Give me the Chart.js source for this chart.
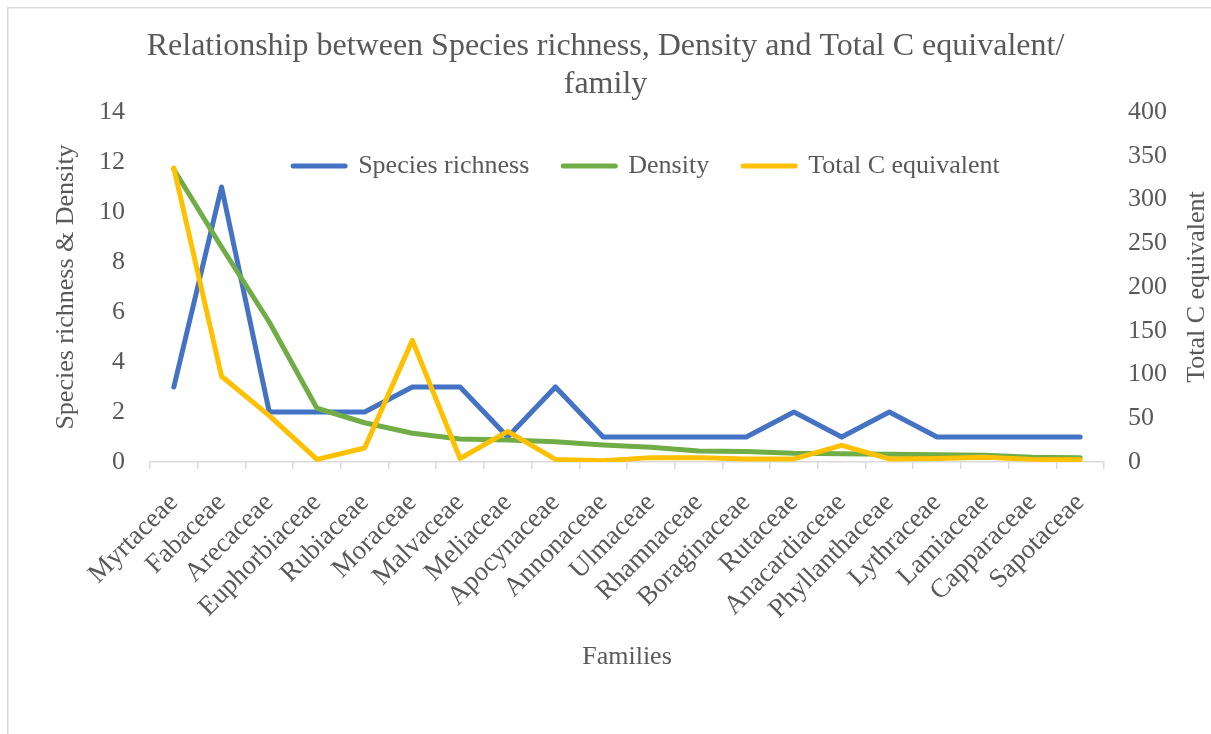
<!DOCTYPE html>
<html>
<head>
<meta charset="utf-8">
<script src="https://cdn.jsdelivr.net/npm/chart.js@4/dist/chart.umd.min.js"></script>
<style>
  html, body { margin: 0; padding: 0; background: #ffffff; }
  #wrap { width: 1211px; height: 734px; }
</style>
</head>
<body>
<div id="wrap"><canvas id="c" width="1211" height="734"></canvas></div>
<script>
const categories = ['Myrtaceae','Fabaceae','Arecaceae','Euphorbiaceae','Rubiaceae','Moraceae','Malvaceae','Meliaceae','Apocynaceae','Annonaceae','Ulmaceae','Rhamnaceae','Boraginaceae','Rutaceae','Anacardiaceae','Phyllanthaceae','Lythraceae','Lamiaceae','Capparaceae','Sapotaceae'];
const speciesRichness = [3, 11, 2, 2, 2, 3, 3, 1, 3, 1, 1, 1, 1, 2, 1, 2, 1, 1, 1, 1];
const density = [11.7, 8.6, 5.6, 2.15, 1.57, 1.15, 0.92, 0.88, 0.81, 0.68, 0.59, 0.44, 0.42, 0.35, 0.33, 0.31, 0.29, 0.27, 0.19, 0.17];
const totalC = [336, 98, 53, 3, 16, 139, 4, 35, 3, 1.5, 5, 5, 3.5, 3.5, 19, 3.5, 4, 5.5, 3, 2.5];
const leftTicks = [0, 2, 4, 6, 8, 10, 12, 14];
const rightTicks = [0, 50, 100, 150, 200, 250, 300, 350, 400];

const FONT = '"Liberation Serif", "Times New Roman", serif';
const TXT = '#595959';
const GRID = '#d9d9d9';

const decor = {
  id: 'decor',
  beforeLayout(chart) {
    const l = chart.legend;
    if (l && !l._zeroPatched) {
      const origFit = l.fit.bind(l);
      l.fit = function () { origFit(); this.height = 0; };
      l._zeroPatched = true;
    }
  },
  afterLayout(chart) {
    const l = chart.legend;
    if (l) {
      l.left += 41; l.right += 41;
      l.top += 7;
      l.height = 80;
      l.bottom = l.top + 80;
    }
  },
  beforeDraw(chart) {
    const ctx = chart.ctx;
    ctx.save();
    ctx.strokeStyle = GRID;
    ctx.lineWidth = 1.5;
    ctx.beginPath();
    ctx.moveTo(7.75, 734);
    ctx.lineTo(7.75, 7.75);
    ctx.lineTo(1211, 7.75);
    ctx.stroke();
    ctx.restore();
  },
  afterDraw(chart) {
    const ctx = chart.ctx;
    const ca = chart.chartArea;
    ctx.save();
    ctx.fillStyle = TXT;
    ctx.font = '26px ' + FONT;
    ctx.textAlign = 'center';
    ctx.textBaseline = 'middle';
    ctx.translate(1197, (ca.top + ca.bottom) / 2);
    ctx.rotate(-Math.PI / 2);
    ctx.fillText('Total C equivalent', 0, 0);
    ctx.restore();
  }
};

new Chart(document.getElementById('c'), {
  type: 'line',
  data: {
    labels: categories,
    datasets: [
      { label: 'Species richness', data: speciesRichness, yAxisID: 'y', borderColor: '#4472C4', backgroundColor: '#4472C4', order: 2 },
      { label: 'Density', data: density, yAxisID: 'y', borderColor: '#70AD47', backgroundColor: '#70AD47', order: 1 },
      { label: 'Total C equivalent', data: totalC, yAxisID: 'y2', borderColor: '#FFC000', backgroundColor: '#FFC000', order: 0 }
    ]
  },
  options: {
    responsive: false,
    animation: false,
    devicePixelRatio: 1,
    layout: { padding: 0 },
    elements: {
      line: { borderWidth: 5, tension: 0, borderCapStyle: 'round', borderJoinStyle: 'round', fill: false },
      point: { radius: 0, hoverRadius: 0 }
    },
    plugins: {
      tooltip: { enabled: false },
      title: {
        display: true,
        text: ['Relationship between Species richness, Density and Total C equivalent/', 'family'],
        color: TXT,
        font: { family: FONT, size: 32, weight: 'normal', lineHeight: 1.1875 },
        padding: { top: 28, bottom: 8 }
      },
      legend: {
        display: true,
        position: 'top',
        align: 'center',
        labels: {
          color: TXT,
          font: { family: FONT, size: 26 },
          usePointStyle: true,
          pointStyle: 'line',
          pointStyleWidth: 52,
          boxHeight: 26,
          padding: 34,
          sort: (a, b) => a.datasetIndex - b.datasetIndex,
          generateLabels(chart) {
            return Chart.defaults.plugins.legend.labels.generateLabels(chart).map(it => {
              const ds = chart.data.datasets[it.datasetIndex];
              it.lineWidth = 5;
              it.lineCap = 'round';
              it.strokeStyle = ds.borderColor;
              it.fillStyle = ds.borderColor;
              it.pointStyle = 'line';
              return it;
            });
          }
        }
      }
    },
    scales: {
      x: {
        type: 'category',
        offset: true,
        grid: { display: true, drawOnChartArea: false, drawTicks: true, tickLength: 7, color: GRID, lineWidth: 1.5, offset: true },
        border: { display: true, color: GRID, width: 1.5 },
        ticks: { color: TXT, font: { family: FONT, size: 27 }, minRotation: 45, maxRotation: 45, autoSkip: false, padding: 18 },
        title: { display: true, text: 'Families', color: TXT, font: { family: FONT, size: 26, lineHeight: 1.2 }, padding: { top: 0, bottom: 61 } },
        afterFit(s) { s.height = 272; }
      },
      y: {
        position: 'left',
        min: 0, max: 14,
        grid: { display: false, drawTicks: false },
        border: { display: false },
        afterBuildTicks(s) { s.ticks = leftTicks.map(v => ({ value: v })); },
        ticks: { color: TXT, font: { family: FONT, size: 26 }, padding: 25 },
        title: { display: true, text: 'Species richness & Density', color: TXT, font: { family: FONT, size: 26, lineHeight: 1.2 }, padding: { top: 51, bottom: 0 } },
        afterFit(s) { s.width = 150; }
      },
      y2: {
        position: 'right',
        min: 0, max: 400,
        grid: { display: false, drawTicks: false },
        border: { display: false },
        afterBuildTicks(s) { s.ticks = rightTicks.map(v => ({ value: v })); },
        ticks: { color: TXT, font: { family: FONT, size: 26 }, padding: 24 },
        afterFit(s) { s.width = 107; }
      }
    }
  },
  plugins: [decor]
});
</script>
</body>
</html>
